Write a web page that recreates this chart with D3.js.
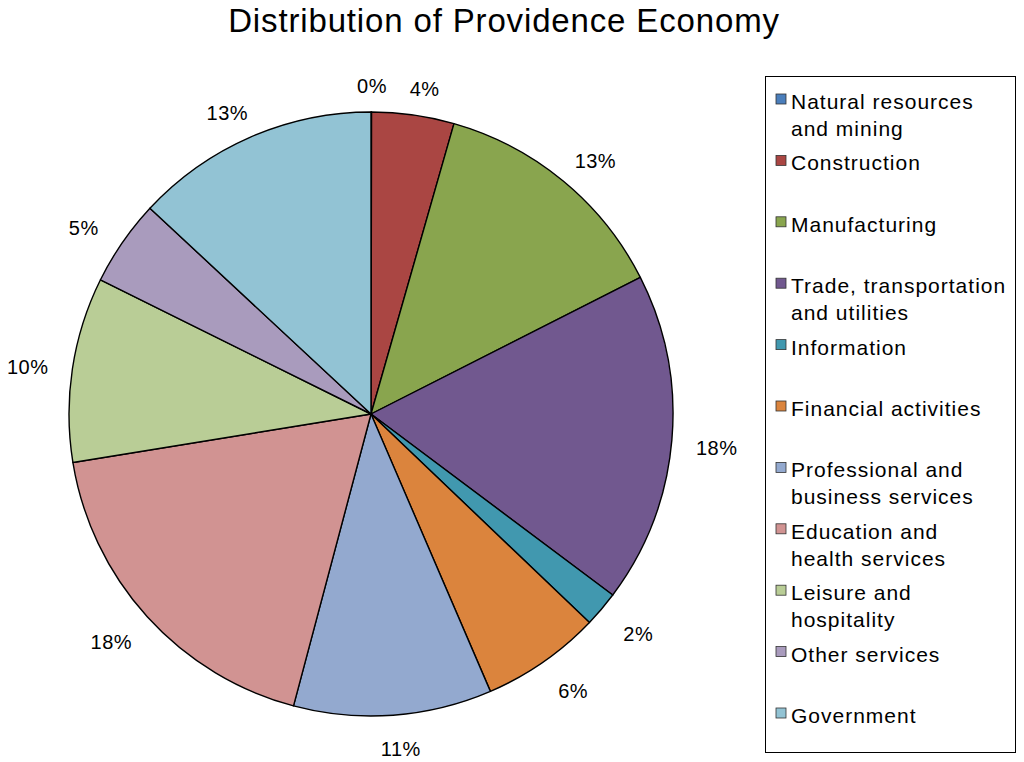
<!DOCTYPE html>
<html lang="en">
<head>
    <meta charset="UTF-8">
    <title>Distribution of Providence Economy</title>
    <script src="https://d3js.org/d3.v7.min.js"></script>
    <style>
        body { margin: 0; background: #fff; }
        text { font-family: "Liberation Sans", Arial, Helvetica, sans-serif; fill: #000; }
    </style>
</head>
<body>
    <div id="chart"></div>
    <script>
        // sectors, clockwise from 12 o'clock
        const sectors = [
            ["Natural resources", "and mining"],
            ["Construction"],
            ["Manufacturing"],
            ["Trade, transportation", "and utilities"],
            ["Information"],
            ["Financial activities"],
            ["Professional and", "business services"],
            ["Education and", "health services"],
            ["Leisure and", "hospitality"],
            ["Other services"],
            ["Government"]
        ];
        // share of the economy, percent
        const shares = [0.03, 4.4, 13.1, 17.7, 1.9, 6.4, 10.6, 18.3, 9.9, 4.6, 13.07];
        const colors = ["#4a7ebb", "#aa4643", "#89a54e", "#71588f", "#4198af", "#db843d",
            "#93a9cf", "#d19392", "#b9cd96", "#a99bbd", "#92c3d4"];

        const width = 1024, height = 762;
        const cx = 371, cy = 414, radius = 302;

        const svg = d3.select("#chart").append("svg")
            .attr("width", width)
            .attr("height", height);

        svg.append("text")
            .attr("x", 504)
            .attr("y", 32)
            .attr("text-anchor", "middle")
            .attr("font-size", "33px")
            .attr("letter-spacing", "0.85px")
            .text("Distribution of Providence Economy");

        const pie = d3.pie().sort(null).value(d => d);
        const arcs = pie(shares);
        const arc = d3.arc().innerRadius(0).outerRadius(radius);

        const g = svg.append("g").attr("transform", `translate(${cx},${cy})`);

        g.selectAll("path")
            .data(arcs)
            .join("path")
            .attr("d", arc)
            .attr("fill", (d, i) => colors[i])
            .attr("stroke", "#000")
            .attr("stroke-width", 1.4)
            .attr("stroke-linejoin", "round");

        // percentage labels just outside the rim, box pushed out from the edge
        const gap = 325, hw = 22, hh = 7;
        function labelPos(d) {
            const a = (d.startAngle + d.endAngle) / 2;
            const ux = Math.sin(a), uy = -Math.cos(a);
            return [
                gap * ux + hw * Math.sign(ux) * Math.sqrt(Math.abs(ux)),
                gap * uy + hh * Math.sign(uy) * Math.sqrt(Math.abs(uy)) + 4
            ];
        }

        g.selectAll("text.pct")
            .data(arcs)
            .join("text")
            .attr("class", "pct")
            .attr("font-size", "20px")
            .attr("letter-spacing", "0.5px")
            .attr("text-anchor", "middle")
            .attr("dy", "0.35em")
            .attr("x", d => labelPos(d)[0])
            .attr("y", d => labelPos(d)[1])
            .text(d => `${Math.round(d.data)}%`);

        // legend
        const legend = svg.append("g");
        legend.append("rect")
            .attr("x", 765.5)
            .attr("y", 76.5)
            .attr("width", 250)
            .attr("height", 676)
            .attr("fill", "#fff")
            .attr("stroke", "#000")
            .attr("stroke-width", 1);

        const rowY = d3.scaleLinear().domain([0, sectors.length - 1]).range([109, 723]);

        const item = legend.selectAll("g.item")
            .data(sectors)
            .join("g")
            .attr("class", "item")
            .attr("transform", (d, i) => `translate(0,${rowY(i)})`);

        item.append("rect")
            .attr("x", 776)
            .attr("y", -15)
            .attr("width", 10)
            .attr("height", 10)
            .attr("fill", (d, i) => colors[i])
            .attr("stroke", "#333")
            .attr("stroke-width", 0.8);

        item.append("text")
            .attr("font-size", "21px")
            .attr("letter-spacing", "1px")
            .selectAll("tspan")
            .data(d => d)
            .join("tspan")
            .attr("x", 791)
            .attr("y", (d, j) => j * 27)
            .text(d => d);
    </script>
</body>
</html>
